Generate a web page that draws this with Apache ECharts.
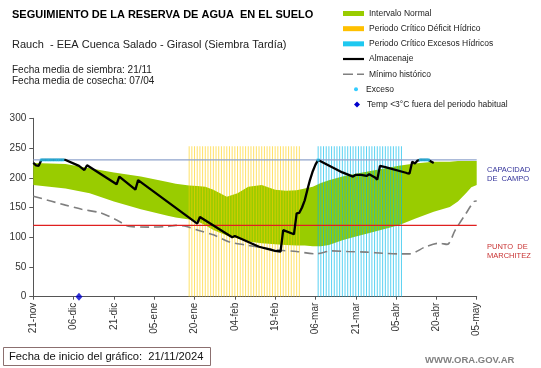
<!DOCTYPE html>
<html>
<head>
<meta charset="utf-8">
<script src="https://cdn.jsdelivr.net/npm/echarts@6.0.0/dist/echarts.min.js"></script>
<style>
html,body{margin:0;padding:0;background:#fff;}
#chart{width:541px;height:368px;}
</style>
</head>
<body>
<div id="chart"></div>
<script>
// ---- data ----
const tickLabels = ['21-nov','06-dic','21-dic','05-ene','20-ene','04-feb','19-feb','06-mar','21-mar','05-abr','20-abr','05-may'];

// Intervalo normal (day index from 21-nov)
const bandDays   = [0,12,21,30,40,50,53,58,61,64,67,72,76,80,85,90,94,98,101,104,107,110,115,119,124,130,136,142,149,155,158,161,163,165];
const normalHigh = [225,223,216,209,202,193,190,187,186,185,180,168,174,185,188,180,178,179,182,185,191,196,202,206,210,215,220,224,227,227,228,228,228,228];
const normalLow  = [188,182,174,160,147,136,133,130,127,120,112,103,98,93,90,88,87,86,86,85,85,87,95,100,106,113,120,131,143,151,160,174,184,188];

// Mínimo histórico
const minDays = [0,12,18,25,31,36,43,50,53,57,61,67,73,79,86,92,98,105,111,117,124,130,136,140,146,151,154,157,161,164,165];
const minHist = [169,154,147,141,129,118,117,118,120,118,112,104,92,87,82,78,76,72,77,76,75,73,72,72,84,90,88,112,140,160,161];

// Almacenaje
const storeDays = [0,1,2,3,12,17,19,20,31,32,38,39,61,62,74,75,84,90,92,93,97,98,99,100,101,102,103,104,105,106,115,119,120,122,124,125,127,128,129,131,139,140,141,142,143,144,147,149];
const storage   = [225,221,220,230,230,220,213,221,189,202,180,196,123,134,100,102,84,77,76,112,105,140,141,150,162,180,197,211,222,230,209,202,205,205,203,206,201,197,220,218,208,207,227,224,229,230,230,225];

// Periodos críticos (days)
const deficitDays = [58,59,60,61,62,63,64,65,66,67,68,69,70,71,72,73,74,75,76,77,78,79,80,81,82,83,84,85,86,87,88,89,90,91,92,93,94,95,96,97,98,99];
const excessDays  = [106,107,108,109,110,111,112,113,114,115,116,117,118,119,120,121,122,123,124,125,126,127,128,129,130,131,132,133,134,135,136,137];
const periodTop = 253;

// Exceso points
const excesoDays = [3,4,5,6,7,8,9,10,11,106,144,145,146,147];
const excesoVals = [230,230,230,230,230,230,230,230,230,230,230,230,230,230];

// Temp < 3°C
const frostDays = [17];
const frostVals = [0];

// Reference levels (mm) and x-range (days)
const fieldCap = 230;
const wiltPoint = 120;
const dayRange = [0, 165];

// ---- chart ----
const FONT = '"Liberation Sans", Arial, sans-serif';
const chart = echarts.init(document.getElementById('chart'), null, {renderer:'canvas'});
const pairs = (xs, ys) => xs.map((x,i)=>[x, ys[i]]);

const option = {
  animation: false,
  backgroundColor: '#ffffff',
  textStyle: {fontFamily: FONT},
  title: [
    {text:'SEGUIMIENTO DE LA RESERVA DE AGUA  EN EL SUELO', left:12, top:8.5, padding:0,
     textStyle:{fontFamily:FONT, fontSize:11, fontWeight:'bold', color:'#000', lineHeight:13}},
    {text:'Rauch  - EEA Cuenca Salado - Girasol (Siembra Tardía)', left:12, top:38.5, padding:0,
     textStyle:{fontFamily:FONT, fontSize:11, fontWeight:'normal', color:'#222', lineHeight:13}},
    {text:'Fecha media de siembra: 21/11\nFecha media de cosecha: 07/04', left:12, top:65.3, padding:0,
     textStyle:{fontFamily:FONT, fontSize:10, fontWeight:'normal', color:'#222', lineHeight:10.6}},
    {text:'CAPACIDAD\nDE  CAMPO', left:487, top:165.5, padding:0,
     textStyle:{fontFamily:FONT, fontSize:7.5, fontWeight:'normal', color:'#33339a', lineHeight:9}},
    {text:'PUNTO  DE\nMARCHITEZ', left:487, top:242, padding:0,
     textStyle:{fontFamily:FONT, fontSize:7.5, fontWeight:'normal', color:'#c83232', lineHeight:9}},
    {text:'Fecha de inicio del gráfico:  21/11/2024', left:3, top:347, padding:[4,7,4,6],
     borderWidth:1, borderColor:'#8b6f6f',
     textStyle:{fontFamily:FONT, fontSize:11.2, fontWeight:'normal', color:'#111', lineHeight:11}},
    {text:'WWW.ORA.GOV.AR', left:425, top:355, padding:0,
     textStyle:{fontFamily:FONT, fontSize:9.5, fontWeight:'bold', color:'#808080', lineHeight:11}}
  ],
  legend: [
    {orient:'vertical', left:343, top:8.5, padding:0, itemWidth:21, itemHeight:5, itemGap:5.17,
     selectedMode:false, textStyle:{fontFamily:FONT, fontSize:8.5, color:'#222', lineHeight:10},
     data:[
       {name:'Intervalo Normal', icon:'rect', itemStyle:{color:'#99cc00', opacity:1, borderWidth:0}},
       {name:'Periodo Crítico Déficit Hídrico', icon:'rect', itemStyle:{color:'#ffc000', opacity:1, borderWidth:0}},
       {name:'Periodo Crítico Excesos Hídricos', icon:'rect', itemStyle:{color:'#1ec8f0', opacity:1, borderWidth:0}},
       {name:'Almacenaje', icon:'path://M0,0h21v2.2h-21z', itemStyle:{color:'#000', opacity:1, borderWidth:0}},
       {name:'Mínimo histórico', icon:'path://M0,0h10v1.6h-10zM14,0h7v1.6h-7z', itemStyle:{color:'#808080', opacity:1, borderWidth:0}}
     ]},
    {orient:'vertical', left:354, top:84.3, padding:0, itemWidth:10, itemHeight:4,
     selectedMode:false, textStyle:{fontFamily:FONT, fontSize:8.5, color:'#222', lineHeight:10},
     data:[{name:'Exceso', icon:'circle', itemStyle:{color:'#33ccff', opacity:1, borderWidth:0}}]},
    {orient:'vertical', left:354, top:99.5, padding:0, itemWidth:10, itemHeight:6,
     selectedMode:false, textStyle:{fontFamily:FONT, fontSize:8.5, color:'#222', lineHeight:10},
     data:[{name:'Temp <3°C fuera del periodo habitual', icon:'path://M5,0L10,5L5,10L0,5Z', itemStyle:{color:'#0000cc', opacity:1, borderWidth:0}}]}
  ],
  grid: {left:33.3, right:64.3, top:118.3, bottom:71.3, containLabel:false, outerBoundsMode:'none'},
  xAxis: {
    type:'value', min:0, max:165, interval:15,
    axisLine:{show:true, onZero:false, lineStyle:{color:'#555', width:1}},
    axisTick:{show:true, length:3, lineStyle:{color:'#555'}},
    splitLine:{show:false},
    axisLabel:{rotate:90, margin:6, fontSize:10, color:'#333', fontFamily:FONT,
      showMinLabel:true, showMaxLabel:true, hideOverlap:false,
      formatter: v => tickLabels[Math.round(v/15)] || ''}
  },
  yAxis: {
    type:'value', min:0, max:300, interval:50,
    name:'Milímetros', nameLocation:'middle', nameGap:21,
    nameTextStyle:{fontSize:7, color:'#333', fontFamily:FONT},
    axisLine:{show:true, onZero:false, lineStyle:{color:'#555', width:1}},
    axisTick:{show:true, length:4, lineStyle:{color:'#555'}},
    splitLine:{show:false},
    axisLabel:{fontSize:10, color:'#333', margin:7, fontFamily:FONT}
  },
  series: [
    {name:'Intervalo Normal', type:'custom', data:[[0,0]], silent:true, z:1,
     itemStyle:{color:'#99cc00'},
     renderItem: function (params, api) {
       const pts = [];
       for (let i = 0; i < bandDays.length; i++) pts.push(api.coord([bandDays[i], normalHigh[i]]));
       for (let i = bandDays.length - 1; i >= 0; i--) pts.push(api.coord([bandDays[i], normalLow[i]]));
       return {type:'polygon', shape:{points:pts}, style:{fill:'#99cc00', stroke:null}};
     }},
    {name:'Periodo Crítico Déficit Hídrico', type:'bar', data:deficitDays.map(d=>[d, periodTop]),
     barWidth:1, barGap:'-100%', itemStyle:{color:'rgba(255,205,0,0.6)'}, silent:true, z:2},
    {name:'Periodo Crítico Excesos Hídricos', type:'bar', data:excessDays.map(d=>[d, periodTop]),
     barWidth:1, barGap:'-100%', itemStyle:{color:'rgba(0,185,235,0.65)'}, silent:true, z:2},
    {name:'Mínimo histórico', type:'line', data:pairs(minDays, minHist), symbol:'none', smooth:0.3,
     lineStyle:{color:'#7f7f7f', width:1.6, type:[9,5]}, itemStyle:{color:'#7f7f7f'}, silent:true, z:3},
    {name:'Punto de marchitez', type:'line', data:dayRange.map(d=>[d, wiltPoint]), symbol:'none',
     lineStyle:{color:'#e02020', width:1.2, type:'solid'}, itemStyle:{color:'#e02020'}, silent:true, z:4},
    {name:'Capacidad de campo', type:'line', data:dayRange.map(d=>[d, fieldCap]), symbol:'none',
     lineStyle:{color:'#8fa3cc', width:1.3, type:'solid'}, itemStyle:{color:'#8fa3cc'}, silent:true, z:4},
    {name:'Almacenaje', type:'line', data:pairs(storeDays, storage), symbol:'none',
     lineStyle:{color:'#000', width:2.3}, itemStyle:{color:'#000'}, silent:true, z:6},
    {name:'Exceso', type:'scatter', data:pairs(excesoDays, excesoVals), symbol:'rect', symbolSize:[3,3],
     itemStyle:{color:'#33ccff'}, silent:true, z:7},
    {name:'Temp <3°C fuera del periodo habitual', type:'scatter', data:pairs(frostDays, frostVals),
     symbol:'diamond', symbolSize:[7,8], itemStyle:{color:'#0000cc'}, clip:false, silent:true, z:8}
  ]
};
chart.setOption(option);
</script>
</body>
</html>
